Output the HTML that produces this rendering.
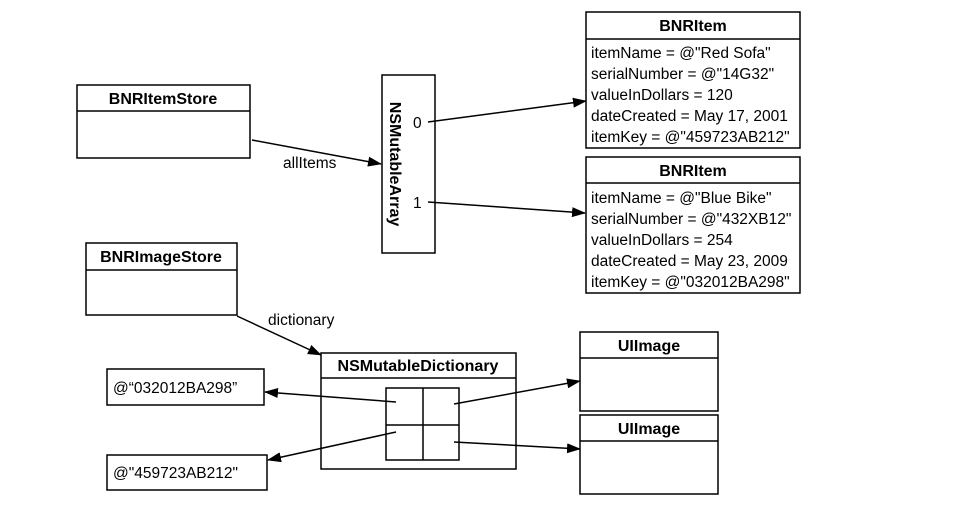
<!DOCTYPE html>
<html><head><style>
body{margin:0;background:#fff;}
svg text{font-family:"Liberation Sans",Arial,sans-serif;fill:#000;}
.b{font-weight:bold;font-size:16px;}
.t{font-size:15.5px;}
</style></head><body>
<svg width="954" height="504" viewBox="0 0 954 504">
<defs><marker id="a" markerWidth="14" markerHeight="10" refX="13" refY="5" orient="auto" markerUnits="userSpaceOnUse"><path d="M0,0 L14,5 L0,10 z" fill="#000"/></marker></defs>
<g fill="none" stroke="#000" stroke-width="1.5">
<rect x="77" y="85" width="173" height="73"/><line x1="77" y1="111" x2="250" y2="111"/>
<rect x="382" y="75" width="53" height="178"/>
<rect x="586" y="12" width="214" height="136"/><line x1="586" y1="39" x2="800" y2="39"/>
<rect x="586" y="157" width="214" height="136"/><line x1="586" y1="183" x2="800" y2="183"/>
<rect x="86" y="243" width="151" height="72"/><line x1="86" y1="270" x2="237" y2="270"/>
<rect x="321" y="353" width="195" height="116"/><line x1="321" y1="378" x2="516" y2="378"/>
<rect x="386" y="388" width="73" height="72"/><line x1="423" y1="388" x2="423" y2="460"/><line x1="386" y1="425" x2="459" y2="425"/>
<rect x="107" y="369" width="157" height="36"/>
<rect x="107" y="455" width="160" height="35"/>
<rect x="580" y="332" width="138" height="79"/><line x1="580" y1="358" x2="718" y2="358"/>
<rect x="580" y="415" width="138" height="79"/><line x1="580" y1="441" x2="718" y2="441"/>
<line x1="252" y1="140" x2="381" y2="164" marker-end="url(#a)"/>
<line x1="428" y1="122" x2="586" y2="101" marker-end="url(#a)"/>
<line x1="428" y1="202" x2="585" y2="213" marker-end="url(#a)"/>
<line x1="237" y1="316" x2="321" y2="355" marker-end="url(#a)"/>
<line x1="396" y1="402" x2="265" y2="392" marker-end="url(#a)"/>
<line x1="396" y1="432" x2="268" y2="460" marker-end="url(#a)"/>
<line x1="454" y1="404" x2="580" y2="381" marker-end="url(#a)"/>
<line x1="454" y1="442" x2="580" y2="449" marker-end="url(#a)"/>
</g>
<text class="b" x="163" y="104" text-anchor="middle">BNRItemStore</text>
<text class="b" x="161" y="262" text-anchor="middle">BNRImageStore</text>
<text class="b" transform="translate(390,164) rotate(90)" text-anchor="middle">NSMutableArray</text>
<text class="t" x="413" y="128">0</text>
<text class="t" x="413" y="208">1</text>
<text class="t" x="283" y="168">allItems</text>
<text class="t" x="268" y="325">dictionary</text>
<text class="b" x="693" y="31" text-anchor="middle">BNRItem</text>
<text class="t" x="591" y="58">itemName = @"Red Sofa"</text>
<text class="t" x="591" y="79">serialNumber = @"14G32"</text>
<text class="t" x="591" y="100">valueInDollars = 120</text>
<text class="t" x="591" y="121">dateCreated = May 17, 2001</text>
<text class="t" x="591" y="142">itemKey = @"459723AB212"</text>
<text class="b" x="693" y="176" text-anchor="middle">BNRItem</text>
<text class="t" x="591" y="203">itemName = @"Blue Bike"</text>
<text class="t" x="591" y="224">serialNumber = @"432XB12"</text>
<text class="t" x="591" y="245">valueInDollars = 254</text>
<text class="t" x="591" y="266">dateCreated = May 23, 2009</text>
<text class="t" x="591" y="287">itemKey = @"032012BA298"</text>
<text class="b" x="418" y="371" text-anchor="middle">NSMutableDictionary</text>
<text class="b" x="649" y="351" text-anchor="middle">UIImage</text>
<text class="b" x="649" y="434" text-anchor="middle">UIImage</text>
<text class="t" x="113" y="393">@“032012BA298”</text>
<text class="t" x="113" y="478">@"459723AB212"</text>
</svg>
</body></html>
